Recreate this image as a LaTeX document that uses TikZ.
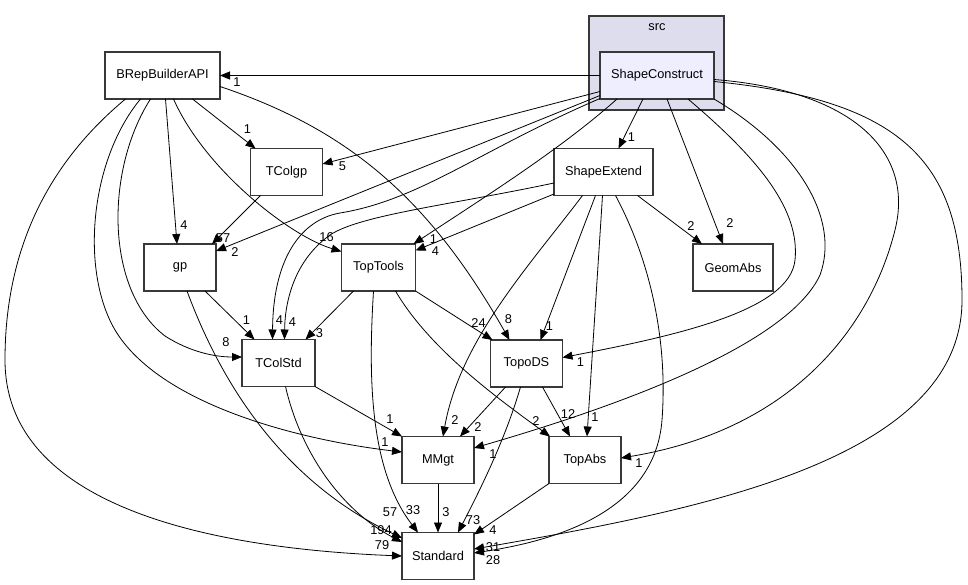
\documentclass[tikz,border=0pt]{standalone}
\usepackage{fontspec}
\setmainfont{Liberation Sans}
\usetikzlibrary{arrows.meta}
\definecolor{clusterfill}{HTML}{DDDDEE}
\definecolor{dirfill}{HTML}{EEEEFF}

\begin{document}
\begin{tikzpicture}[x=1pt,y=-1pt]
  \tikzset{dirbox/.style={draw=black!78,line width=1.2pt,fill=white,minimum height=47pt,minimum width=72pt,inner sep=2pt,outer sep=0pt,font=\fontsize{12.8}{14}\selectfont},
    dep/.style={-{Triangle[length=10pt,width=8pt]},line width=0.8pt},
    cnt/.style={font=\fontsize{12.8}{14}\selectfont,inner sep=0pt}}
  \useasboundingbox (0,0) rectangle (968,585);
  \node[draw=black!78,line width=1.2pt,fill=clusterfill,minimum width=135pt,minimum height=94pt,outer sep=0pt] (src) at (656.5,63) {};
  \node[cnt] (srclbl) at (657,27) {src};
  \node[dirbox,fill=dirfill,minimum width=114pt] (sc) at (657,75.5) {ShapeConstruct};
  \node[dirbox,minimum width=115pt] (brep) at (162.5,75.5) {BRepBuilderAPI};
  \node[dirbox] (tcolgp) at (286.5,172) {TColgp};
  \node[dirbox,minimum width=99pt] (sext) at (603.5,172) {ShapeExtend};
  \node[dirbox] (gp) at (180,267.5) {gp};
  \node[dirbox,minimum width=74pt] (tt) at (378.5,267.5) {TopTools};
  \node[dirbox,minimum width=80pt] (geom) at (733,267.5) {GeomAbs};
  \node[dirbox,minimum width=73pt] (tcs) at (278.5,363) {TColStd};
  \node[dirbox] (tds) at (526.5,363.5) {TopoDS};
  \node[dirbox] (mmgt) at (438,460) {MMgt};
  \node[dirbox] (tabs) at (585,460) {TopAbs};
  \node[dirbox] (std) at (438,556) {Standard};

  \draw[dep] (sc.west) -- (brep.east) node[cnt,shift={(17,7)}] (c1) {1};
  \draw[dep] ([shift={(0,16)}]sc.west) -- ([shift={(0,-8)}]tcolgp.east) node[cnt,shift={(20,2)}] (c2) {5};
  \draw[dep] ([shift={(0,20)}]sc.west) -- ([shift={(0,7)}]gp.north east) node[cnt,shift={(19,1)}] (c3) {2};
  \draw[dep] ([shift={(0,23)}]sc.west) .. controls (480,150) and (420,200) .. (340,213) .. controls (300,220) and (273,260) .. ([shift={(-6,0)}]tcs.north) node[cnt,shift={(7,-19)}] (c4) {4};
  \draw[dep] ([shift={(-40,0)}]sc.south) .. controls (560,150) and (480,200) .. ([shift={(-2,0)}]tt.north east) node[cnt,shift={(20,-5)}] (c5) {1};
  \draw[dep] ([shift={(-14,0)}]sc.south) -- ([shift={(15,0)}]sext.north) node[cnt,shift={(13,-11)}] (c6) {1};
  \draw[dep] ([shift={(10,0)}]sc.south) -- ([shift={(-10,0)}]geom.north) node[cnt,shift={(7,-21)}] (c7) {2};
  \draw[dep] ([shift={(31,0)}]sc.south) .. controls (760,160) and (800,210) .. (795,260) .. controls (790,310) and (680,335) .. ([shift={(0,-6)}]tds.east) node[cnt,shift={(18,5)}] (c8) {1};
  \draw[dep] (sc.south east) .. controls (800,150) and (840,220) .. (820,275) .. controls (790,340) and (640,400) .. ([shift={(0,-12)}]mmgt.east) node[cnt,shift={(19,6)}] (c9) {1};
  \draw[dep] ([shift={(0,4)}]sc.east) .. controls (850,90) and (915,150) .. (895,230) .. controls (870,330) and (790,430) .. ([shift={(0,-2)}]tabs.east) node[cnt,shift={(18,5)}] (c10) {1};
  \draw[dep] ([shift={(0,6)}]sc.east) .. controls (900,100) and (962,160) .. (962,300) .. controls (962,460) and (700,510) .. ([shift={(0,-7)}]std.east) node[cnt,shift={(19,-2)}] (c11) {31};

  \draw[dep] ([shift={(0,22)}]sext.west) -- ([shift={(0,-17)}]tt.east) node[cnt,shift={(20,1)}] (c12) {4};
  \draw[dep] ([shift={(0,11)}]sext.west) .. controls (450,205) and (360,215) .. (330,235) .. controls (295,260) and (285,300) .. ([shift={(6,0)}]tcs.north) node[cnt,shift={(8,-17)}] (c13) {4};
  \draw[dep] ([shift={(34,0)}]sext.south) -- ([shift={(-31,0)}]geom.north) node[cnt,shift={(-11,-18)}] (c14) {2};
  \draw[dep] ([shift={(-21,0)}]sext.south) .. controls (530,265) and (460,340) .. ([shift={(5,0)}]mmgt.north) node[cnt,shift={(12,-16)}] (c15) {2};
  \draw[dep] ([shift={(-8,0)}]sext.south) -- ([shift={(14,0)}]tds.north) node[cnt,shift={(9,-14)}] (c16) {1};
  \draw[dep] ([shift={(-1,0)}]sext.south) -- ([shift={(2,0)}]tabs.north) node[cnt,shift={(8,-19)}] (c17) {1};
  \draw[dep] ([shift={(12,0)}]sext.south) .. controls (650,260) and (668,340) .. (662,420) .. controls (655,510) and (560,540) .. ([shift={(0,-3)}]std.east) node[cnt,shift={(19,7)}] (c18) {28};

  \draw[dep] ([shift={(30,0)}]brep.south) -- ([shift={(-31,0)}]tcolgp.north) node[cnt,shift={(-8,-19)}] (c19) {1};
  \draw[dep] ([shift={(3,0)}]brep.south) -- ([shift={(-3,0)}]gp.north) node[cnt,shift={(7,-19)}] (c20) {4};
  \draw[dep] ([shift={(11,0)}]brep.south) .. controls (205,170) and (290,236) .. ([shift={(0,-16)}]tt.west) node[cnt,shift={(-15,-14)}] (c21) {16};
  \draw[dep] ([shift={(-12,0)}]brep.south) .. controls (105,170) and (105,290) .. (165,336) .. controls (190,352) and (215,357) .. ([shift={(0,-6)}]tcs.west) node[cnt,shift={(-16,-15)}] (c22) {8};
  \draw[dep] ([shift={(-22,0)}]brep.south) .. controls (90,160) and (80,270) .. (115,330) .. controls (160,405) and (300,440) .. ([shift={(0,-8)}]mmgt.west) node[cnt,shift={(-17,-10)}] (c23) {1};
  \draw[dep] ([shift={(0,11)}]brep.east) .. controls (350,130) and (430,200) .. ([shift={(-17,0)}]tds.north) node[cnt,shift={(-1,-21)}] (c24) {8};
  \draw[dep] ([shift={(-37,0)}]brep.south) .. controls (40,170) and (5,260) .. (5,360) .. controls (5,520) and (250,550) .. (std.west) node[cnt,shift={(-20,-11)}] (c25) {79};

  \draw[dep] ([shift={(-26,0)}]tcolgp.south) -- ([shift={(-4,0)}]gp.north east) node[cnt,shift={(11,-6)}] (c26) {57};
  \draw[dep] ([shift={(25,0)}]gp.south) -- ([shift={(-24,0)}]tcs.north) node[cnt,shift={(-8,-19)}] (c27) {1};
  \draw[dep] ([shift={(7,0)}]gp.south) .. controls (220,380) and (280,480) .. ([shift={(0,-18)}]std.west) node[cnt,shift={(-12,-26)}] (c28) {57};
  \draw[dep] ([shift={(-25,0)}]tt.south) -- ([shift={(27,0)}]tcs.north) node[cnt,shift={(14,-6)}] (c29) {3};
  \draw[dep] (tt.south east) -- ([shift={(2,0)}]tds.north west) node[cnt,shift={(-14,-17)}] (c30) {24};
  \draw[dep] ([shift={(17,0)}]tt.south) .. controls (430,350) and (500,400) .. ([shift={(1,0)}]tabs.north west) node[cnt,shift={(-14,-15)}] (c31) {2};
  \draw[dep] ([shift={(-5,0)}]tt.south) .. controls (368,380) and (370,470) .. ([shift={(-20,0)}]std.north) node[cnt,shift={(-5,-22)}] (c32) {33};
  \draw[dep] (tcs.south east) -- (mmgt.north west) node[cnt,shift={(-12,-17)}] (c33) {1};
  \draw[dep] ([shift={(7,0)}]tcs.south) .. controls (300,450) and (340,510) .. ([shift={(0,-14)}]std.west) node[cnt,shift={(-21,-12)}] (c34) {194};
  \draw[dep] ([shift={(-21,0)}]tds.south) -- ([shift={(22,0)}]mmgt.north) node[cnt,shift={(18,-9)}] (c35) {2};
  \draw[dep] ([shift={(16,0)}]tds.south) -- ([shift={(-15,0)}]tabs.north) node[cnt,shift={(-2,-22)}] (c36) {12};
  \draw[dep] ([shift={(-6,0)}]tds.south) .. controls (505,440) and (480,490) .. ([shift={(20,0)}]std.north) node[cnt,shift={(15,-12)}] (c37) {73};
  \draw[dep] (tabs.south west) -- ([shift={(0,2)}]std.north east) node[cnt,shift={(19,-4)}] (c38) {4};
  \draw[dep] (mmgt.south) -- (std.north) node[cnt,shift={(8,-20)}] (c39) {3};
\end{tikzpicture}
\end{document}
